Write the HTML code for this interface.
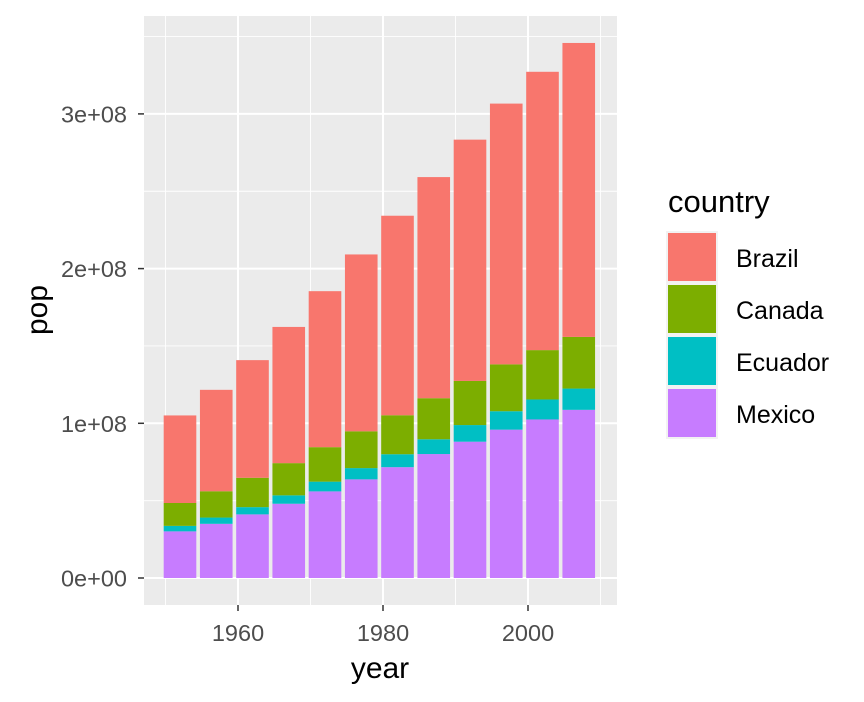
<!DOCTYPE html>
<html><head><meta charset="utf-8"><style>
body{margin:0;background:#fff;}
svg{display:block;font-family:"Liberation Sans",sans-serif;}
</style></head><body>
<svg id="chart" width="864" height="702">
<rect x="144" y="16" width="473" height="589" fill="#EBEBEB"/>
<g id="grid"></g><g id="bars"></g><g id="axes"></g>
<text x="380" y="678" font-size="30" text-anchor="middle" fill="#000">year</text>
<text transform="translate(47,310) rotate(-90)" font-size="30" text-anchor="middle" fill="#000">pop</text>
<g id="legend">
<text x="668" y="212" font-size="31" fill="#000">country</text>
</g>
</svg>
<script>
const years=[1952,1957,1962,1967,1972,1977,1982,1987,1992,1997,2002,2007];
const countries=["Brazil","Canada","Ecuador","Mexico"];
const colors=["#F8766D","#7CAE00","#00BFC4","#C77CFF"];
const brazil=[56602560,65551171,76039390,88049823,100840058,114313951,128962939,142938076,155975974,168546719,179914212,190010647];
const canada=[14785584,17010154,18985849,20819767,22284500,23796400,25201900,26549700,28523502,30305843,31902268,33390141];
const ecuador=[3548753,4058385,4681707,5432424,6298651,7278866,8365850,9545158,10748394,11911819,12921234,13755680];
const mexico=[30144317,35015548,41121485,47995559,55984294,63759976,71640904,80122492,88111030,95895146,102479927,108700891];
const yTicks=[0,1e8,2e8,3e8];
const yTickLabels=["0e+00","1e+08","2e+08","3e+08"];
const xTicks=[1960,1980,2000];
const NS="http://www.w3.org/2000/svg";
function X(v){return 238+(v-1960)*7.25;}
function Y(v){return 578-v*154.7e-8;}
function el(t,a,p){const e=document.createElementNS(NS,t);for(const k in a)e.setAttribute(k,a[k]);p.appendChild(e);return e;}
const grid=document.getElementById('grid'),bars=document.getElementById('bars'),axes=document.getElementById('axes'),legend=document.getElementById('legend');
for(let i=0;i<yTicks.length;i++){
 const mv=yTicks[i]+5e7;
 if(Y(mv)>16){const m=el('line',{x1:144,x2:617,y1:Y(mv),y2:Y(mv),stroke:'#fff','stroke-width':0.9},grid);
 }
 const g=el('line',{x1:144,x2:617,y1:Y(yTicks[i]),y2:Y(yTicks[i]),stroke:'#fff','stroke-width':2},grid);
 
 const tk=el('line',{x1:138,x2:144,y1:Y(yTicks[i]),y2:Y(yTicks[i]),stroke:'#333','stroke-width':1.5},axes);
 
 const t=el('text',{x:127,y:Y(yTicks[i])+8.5,'font-size':23.5,'text-anchor':'end',fill:'#4D4D4D'},axes);
 t.textContent=yTickLabels[i];
}
for(const v of [1950,1970,1990,2010]){const m=el('line',{x1:X(v),x2:X(v),y1:16,y2:605,stroke:'#fff','stroke-width':0.9},grid);
 }
for(const v of xTicks){
 const g=el('line',{x1:X(v),x2:X(v),y1:16,y2:605,stroke:'#fff','stroke-width':2},grid);
 
 const tk=el('line',{x1:X(v),x2:X(v),y1:605,y2:611,stroke:'#333','stroke-width':1.5},axes);
 
 const t=el('text',{x:X(v),y:641,'font-size':23.5,'text-anchor':'middle',fill:'#4D4D4D'},axes);
 t.textContent=v;
}
const series=[brazil,canada,ecuador,mexico];
const bw=4.5*7.25;
for(let i=0;i<years.length;i++){
 let base=0;
 for(let s=3;s>=0;s--){
  const v=series[s][i];
  const r=el('rect',{x:X(years[i])-bw/2,y:Y(base+v),width:bw,height:Y(base)-Y(base+v),fill:colors[s]},bars);
  
  
  base+=v;
 }
}
for(let s=0;s<4;s++){
 const y0=232+s*52;
 const r=el('rect',{x:667,y:y0,width:50,height:50,fill:colors[s],stroke:'#F2F2F2','stroke-width':2},legend);
 
 const t=el('text',{x:736,y:y0+35,'font-size':25,fill:'#000'},legend);
 t.textContent=countries[s];
}
</script>
</body></html>
